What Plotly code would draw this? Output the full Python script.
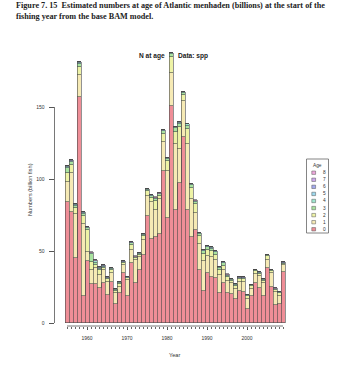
import plotly.graph_objects as go

# ---------------- data (billions of fish) ----------------
years = list(range(1955, 2010))
age_labels = ["0", "1", "2", "3", "4", "5", "6", "7", "8"]

age0 = [84, 77, 45, 157, 19, 43, 27, 27, 24.5, 28,
        19.5, 28.5, 13, 21, 34.5, 19, 42, 28, 37, 47,
        74, 58, 59.5, 62, 105.6, 72.7, 150.7, 78.5, 97, 129,
        78.5, 60, 64.6, 37, 22, 34.5, 32, 31, 20.6, 27.5,
        21, 20, 16.4, 22.5, 21.3, 9.5, 18.8, 28, 24, 19,
        38, 25, 12.5, 13, 35.6]
age1 = [14, 27, 31, 15, 50, 6, 10, 11, 9, 8.5,
        9, 6, 7.5, 4, 5.8, 11, 9, 15.5, 9, 10.5,
        14.5, 26, 19, 24, 20, 33, 23, 46, 24, 25,
        46, 26, 12, 18, 21, 12, 14, 13, 13, 9,
        8.5, 7.5, 7.5, 6, 7, 7.5, 5, 6, 8.5, 8.5,
        6, 9.5, 9, 6, 4.5]
age2 = [6.5, 5.5, 4, 6, 5, 15.5, 5.5, 2.5, 3, 2,
        2, 2.5, 2, 2.3, 1.5, 1.0, 3.5, 1.5, 1.5, 3,
        3, 3, 6, 2.5, 6, 6.5, 11, 8, 15, 4.5,
        10, 8, 6, 5.5, 5, 4.5, 4, 3.5, 3.3, 3.2,
        2.3, 1.8, 1.8, 1.8, 2, 1.5, 1.7, 1.8, 1.6, 2,
        2.3, 1.5, 1.6, 1.5, 1.2]
age3 = [3, 2, 1.5, 2, 2, 1.3, 5.5, 1.2, 1, 0.7,
        0.6, 0.7, 0.6, 0.6, 0.5, 0.4, 0.9, 0.7, 0.6, 0.8,
        0.9, 1, 1.7, 0.8, 1.5, 1.7, 2, 2.6, 2.3, 1.2,
        2.6, 1.7, 1.6, 1.4, 1.7, 1.5, 1.7, 1.5, 1.4, 1.7,
        1.1, 0.9, 0.8, 0.8, 0.8, 0.6, 0.6, 0.7, 0.6, 0.6,
        0.6, 0.5, 0.5, 0.5, 0.4]
age4 = [1.0, 0.8, 0.6, 0.8, 0.6, 0.5, 0.6, 1.3, 0.5, 0.4,
        0.3, 0.3, 0.3, 0.3, 0.3, 0.2, 0.4, 0.3, 0.3, 0.3,
        0.4, 0.4, 0.6, 0.3, 0.5, 0.5, 0.6, 0.8, 0.8, 0.4,
        0.8, 0.6, 0.5, 0.4, 0.5, 0.5, 0.6, 0.5, 0.4, 0.5,
        0.4, 0.4, 0.4, 0.4, 0.4, 0.3, 0.3, 0.3, 0.3, 0.2,
        0.3, 0.3, 0.2, 0.2, 0.2]
age5 = [0.4, 0.4, 0.3, 0.3, 0.3, 0.2, 0.2, 0.3, 0.5, 0.2,
        0.2, 0.1, 0.1, 0.1, 0.1, 0.1, 0.1, 0.1, 0.1, 0.1,
        0.1, 0.2, 0.2, 0.2, 0.2, 0.2, 0.2, 0.2, 0.3, 0.3,
        0.3, 0.2, 0.2, 0.2, 0.2, 0.2, 0.2, 0.2, 0.2, 0.2,
        0.2, 0.1, 0.1, 0.1, 0.1, 0.1, 0.1, 0.1, 0.1, 0.1,
        0.1, 0.1, 0.1, 0.1, 0.1]
age6 = [0.2, 0.2, 0.15, 0.1, 0.1, 0.1, 0.1, 0.1, 0.15, 0.2,
        0.1, 0.05, 0.05, 0.05, 0.05, 0.05, 0.05, 0.05, 0.05, 0.05,
        0.05, 0.05, 0.1, 0.1, 0.1, 0.1, 0.1, 0.1, 0.1, 0.1,
        0.1, 0.1, 0.1, 0.1, 0.1, 0.1, 0.1, 0.1, 0.1, 0.1,
        0.1, 0.05, 0.05, 0.05, 0.05, 0.05, 0.05, 0.05, 0.05, 0.05,
        0.05, 0.05, 0.05, 0.05, 0.05]
age7 = [0.1, 0.1, 0.1, 0.05, 0.05, 0.05, 0.05, 0.05, 0.05, 0.1,
        0.05, 0.03, 0.03, 0.03, 0.03, 0.03, 0.03, 0.03, 0.03, 0.03,
        0.03, 0.03, 0.05, 0.05, 0.05, 0.05, 0.05, 0.05, 0.05, 0.05,
        0.05, 0.05, 0.05, 0.05, 0.05, 0.05, 0.05, 0.05, 0.05, 0.05,
        0.05, 0.03, 0.03, 0.03, 0.03, 0.03, 0.03, 0.03, 0.03, 0.03,
        0.03, 0.03, 0.03, 0.03, 0.03]
age8 = [0.1, 0.1, 0.1, 0.05, 0.05, 0.05, 0.05, 0.05, 0.05, 0.05,
        0.05, 0.03, 0.03, 0.03, 0.03, 0.03, 0.03, 0.03, 0.03, 0.03,
        0.03, 0.03, 0.05, 0.05, 0.05, 0.05, 0.05, 0.05, 0.05, 0.05,
        0.05, 0.05, 0.05, 0.05, 0.05, 0.05, 0.05, 0.05, 0.05, 0.05,
        0.05, 0.03, 0.03, 0.03, 0.03, 0.03, 0.03, 0.03, 0.03, 0.03,
        0.03, 0.03, 0.03, 0.03, 0.03]

series = [age0, age1, age2, age3, age4, age5, age6, age7, age8]
colors = ["#EF8E97", "#F6EAB5", "#EEF3A6", "#A9E39F", "#9EE6CF",
          "#9DD9EE", "#A4AAEE", "#CFA8EE", "#EEA8DC"]

y_ticks = [0, 50, 100, 150]
x_ticks = [1960, 1970, 1980, 1990, 2000]

# ---------------- layout helpers ----------------
W, H = 350, 370
def px(x):
    return x / W
def py(y):
    return 1 - y / H

# pixel geometry: value 0 at y=323, 50 units = 72 px; axis line at y=326
y_lo = (323 - 326) * 50 / 72
y_hi = (323 - 45) * 50 / 72

fig = go.Figure()
for lab, vals, col in zip(age_labels, series, colors):
    fig.add_trace(go.Bar(
        x=years, y=vals, name=lab, width=1,
        marker=dict(color=col, line=dict(color="#4a4a4a", width=0.6)),
    ))

tickfont = dict(family="Liberation Sans, Arial", size=5, color="#333")
fig.update_layout(
    barmode="stack", bargap=0,
    width=W, height=H, margin=dict(l=0, r=0, t=0, b=0),
    paper_bgcolor="white", plot_bgcolor="white", showlegend=False,
    xaxis=dict(domain=[px(54.5), px(295)], range=[1951.875, 2012],
               showgrid=False, zeroline=False, showline=False,
               tickmode="array", tickvals=x_ticks, ticktext=[str(v) for v in x_ticks],
               ticks="outside", ticklen=3, tickwidth=0.7, tickcolor="#555",
               tickfont=tickfont, ticklabelstandoff=4,
               minor=dict(tickvals=years, ticks="outside", ticklen=2,
                          tickwidth=0.6, tickcolor="#666")),
    yaxis=dict(domain=[py(326), py(45)], range=[y_lo, y_hi],
               showgrid=False, zeroline=False, showline=False,
               tickmode="array", tickvals=y_ticks, ticktext=[str(v) for v in y_ticks],
               ticks="outside", ticklen=5, tickwidth=0.7, tickcolor="#555",
               tickfont=tickfont, ticklabelstandoff=3),
)

shapes = [
    # R-style axis lines spanning only the tick range
    dict(type="line", xref="x", yref="paper", x0=years[0], x1=years[-1],
         y0=py(326), y1=py(326), line=dict(color="#555", width=0.8)),
    dict(type="line", xref="paper", yref="y", x0=px(54.5), x1=px(54.5),
         y0=y_ticks[0], y1=y_ticks[-1], line=dict(color="#555", width=0.8)),
    # legend box
    dict(type="rect", xref="paper", yref="paper", x0=px(306.5), x1=px(328.5),
         y0=py(233), y1=py(159), line=dict(color="#666", width=0.8), fillcolor="white"),
]
annotations = [
    dict(text="<b>Figure 7. 15  Estimated numbers at age of Atlantic menhaden (billions) at the start of the</b>",
         x=px(14), y=py(5.5), xanchor="left", yanchor="middle"),
    dict(text="<b>fishing year from the base BAM model.</b>",
         x=px(14), y=py(16), xanchor="left", yanchor="middle"),
]
for a in annotations:
    a.update(xref="paper", yref="paper", showarrow=False,
             font=dict(family="Liberation Serif, Times New Roman", size=8.2, color="#222"))

annotations += [
    dict(text="<b>N at age</b>", x=px(152), y=py(55.5)),
    dict(text="<b>Data: spp</b>", x=px(193), y=py(55.5)),
]
for a in annotations[2:]:
    a.update(xref="paper", yref="paper", showarrow=False, xanchor="center", yanchor="middle",
             font=dict(family="Liberation Sans, Arial", size=6.6, color="#222"))

annotations += [
    dict(text="Year", x=px(174), y=py(355), xref="paper", yref="paper", showarrow=False,
         xanchor="center", yanchor="middle",
         font=dict(family="Liberation Sans, Arial", size=5.6, color="#333")),
    dict(text="Numbers (billion fish)", x=px(30), y=py(190), xref="paper", yref="paper",
         showarrow=False, textangle=-90, xanchor="center", yanchor="middle",
         font=dict(family="Liberation Sans, Arial", size=5.6, color="#333")),
    dict(text="Age", x=px(317.5), y=py(165.5), xref="paper", yref="paper", showarrow=False,
         xanchor="center", yanchor="middle",
         font=dict(family="Liberation Sans, Arial", size=4.8, color="#333")),
]

# legend entries (8 at top down to 0)
for i, k in enumerate(range(8, -1, -1)):
    yc = 172.7 + 7.07 * i
    shapes.append(dict(type="rect", xref="paper", yref="paper",
                       x0=px(311.8), x1=px(315.6), y0=py(yc + 1.7), y1=py(yc - 1.7),
                       fillcolor=colors[k], line=dict(color="#555", width=0.5)))
    annotations.append(dict(text=age_labels[k], x=px(320.5), y=py(yc), xref="paper", yref="paper",
                            showarrow=False, xanchor="left", yanchor="middle",
                            font=dict(family="Liberation Sans, Arial", size=4.8, color="#333")))

fig.update_layout(shapes=shapes, annotations=annotations)
fig.write_html("out.html")
